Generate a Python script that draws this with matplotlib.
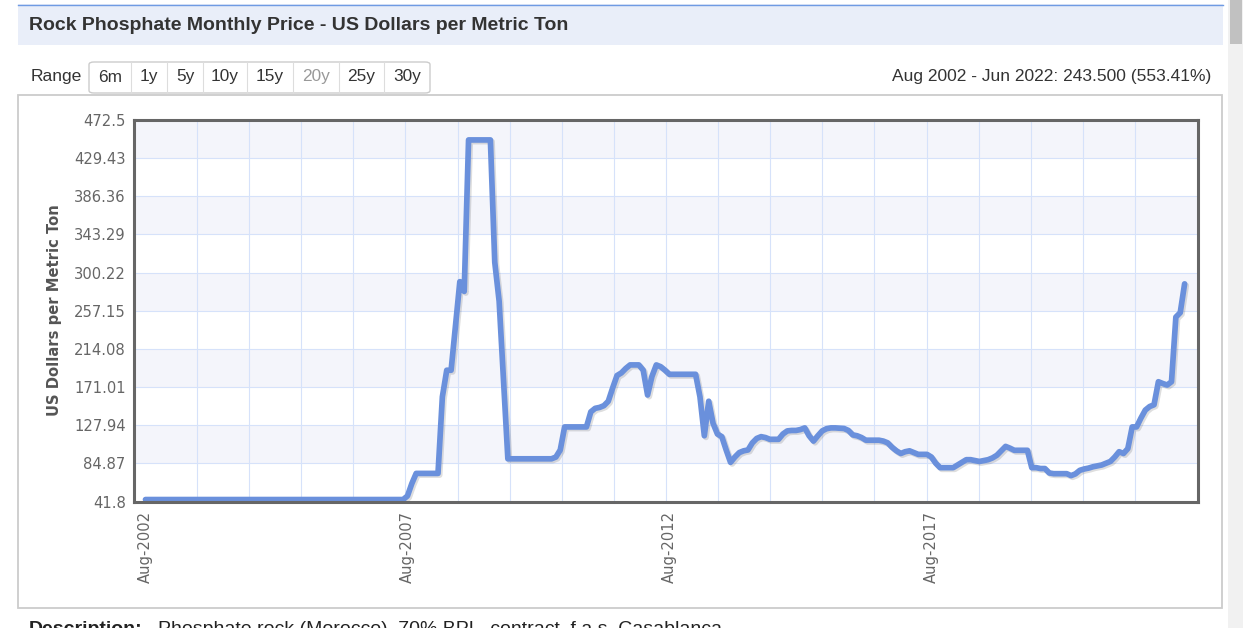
import matplotlib
matplotlib.use("Agg")
import matplotlib.pyplot as plt
import matplotlib.patheffects as pe
from matplotlib.patches import Rectangle, FancyBboxPatch
from matplotlib.lines import Line2D
import numpy as np
import pandas as pd

# ---- data (monthly, Aug 2002 .. Jun 2022) ----
months = pd.date_range("2002-08-01", "2022-06-01", freq="MS")
price = [
    44, 44, 44, 44, 44, 44, 44, 44, 44, 44, 44, 44,
    44, 44, 44, 44, 44, 44, 44, 44, 44, 44, 44, 44,
    44, 44, 44, 44, 44, 44, 44, 44, 44, 44, 44, 44,
    44, 44, 44, 44, 44, 44, 44, 44, 44, 44, 44, 44,
    44, 44, 44, 44, 44, 44, 44, 44, 44, 44, 44, 44,
    48, 62, 73.5, 73.5, 73.5, 73.5, 73.5, 73.5, 160, 190, 190, 240,
    290, 279, 450, 450, 450, 450, 450, 450, 312, 268, 180, 90,
    90, 90, 90, 90, 90, 90, 90, 90, 90, 90, 92, 100,
    126, 126, 126, 126, 126, 126, 143, 147, 148, 150, 155, 170,
    184, 187, 192, 196, 196, 196, 190, 162, 183, 196, 194, 190,
    185.4, 185.4, 185.4, 185.4, 185.4, 185.4, 185.4, 160, 116, 155, 130, 118,
    115, 100, 86, 92, 97, 99, 100, 108, 113, 115, 114, 112,
    112, 112, 118, 121.5, 122, 122, 123, 124.9, 116, 110, 116, 121.5,
    124, 124.9, 124.9, 124.5, 124.2, 122, 117, 116, 114, 111, 111, 111,
    111, 110, 108, 103, 99, 96, 98, 99, 97, 95, 95, 95,
    92, 85, 80, 80, 80, 80, 83, 86, 89, 89, 88, 87,
    88, 89, 91, 94, 99, 104, 102, 99.6, 99.6, 99.6, 99.6, 80,
    80, 79, 79, 74, 73.2, 73.2, 73.2, 73.2, 71, 73, 77, 78.5,
    79.5, 81, 82, 83, 85, 87, 92, 98, 96, 101.5, 126, 126,
    136, 145, 149, 151, 177, 175, 173.3, 177, 250, 255, 287.5,
]
ymin, ymax = 41.8, 472.5
ytick_vals = [41.8, 84.87, 127.94, 171.01, 214.08, 257.15, 300.22, 343.29, 386.36, 429.43, 472.5]
ytick_labels = ["41.8", "84.87", "127.94", "171.01", "214.08", "257.15",
                "300.22", "343.29", "386.36", "429.43", "472.5"]
xlabel_idx = [0, 60, 120, 180]
range_buttons = ["6m", "1y", "5y", "10y", "15y", "20y", "25y", "30y"]
title = "Rock Phosphate Monthly Price - US Dollars per Metric Ton"
summary = "Aug 2002 - Jun 2022: 243.500 (553.41%)"
ylabel = "US Dollars per Metric Ton"
desc = "Phosphate rock (Morocco), 70% BPL, contract, f.a.s. Casablanca"

W, H = 1243, 628
def fx(x):
    return x / W
def fy(y):
    return 1 - y / H

fig = plt.figure(figsize=(W / 100, H / 100), dpi=100)
fig.patch.set_facecolor("white")
hdr_font = ["Liberation Sans", "DejaVu Sans"]

# header bar
fig.add_artist(Rectangle((fx(18), fy(45)), fx(1223) - fx(18), fy(4) - fy(45),
                         transform=fig.transFigure, facecolor="#e9eef9", edgecolor="none"))
fig.add_artist(Line2D([fx(18), fx(1223)], [fy(4.5), fy(4.5)], transform=fig.transFigure,
                      color="#6f9be3", lw=1.0))
fig.text(fx(29), fy(25), title, fontsize=14.0, fontweight="bold", color="#333333",
         family=hdr_font, va="center", ha="left")

# scrollbar on the right
fig.add_artist(Rectangle((fx(1228), 0), fx(15), 1, transform=fig.transFigure,
                         facecolor="#f1f1f1", edgecolor="none"))
fig.add_artist(Rectangle((fx(1230), fy(44)), fx(12), fy(0) - fy(44), transform=fig.transFigure,
                         facecolor="#c1c1c1", edgecolor="none"))

# range selector
fig.text(fx(31), fy(77), "Range", fontsize=12.6, color="#333333", family=hdr_font,
         va="center", ha="left")
edges = [89, 131, 167, 203, 247, 293, 339, 384, 430]
fig.add_artist(FancyBboxPatch((fx(89), fy(93)), fx(430) - fx(89), fy(62) - fy(93),
                              boxstyle="round,pad=0,rounding_size=0.004",
                              transform=fig.transFigure, facecolor="white",
                              edgecolor="#cccccc", lw=1.0))
for i, lab in enumerate(range_buttons):
    if i > 0:
        fig.add_artist(Line2D([fx(edges[i]), fx(edges[i])], [fy(62), fy(93)],
                              transform=fig.transFigure, color="#dddddd", lw=0.8))
    cx = (edges[i] + edges[i + 1]) / 2
    fig.text(fx(cx), fy(77), lab, fontsize=12.4, family=hdr_font, ha="center", va="center",
             color="#999999" if lab == "20y" else "#333333")

fig.text(fx(1211), fy(77), summary, fontsize=12.5, color="#333333", family=hdr_font,
         ha="right", va="center")

# chart container
fig.add_artist(Rectangle((fx(18), fy(608)), fx(1222) - fx(18), fy(95) - fy(608),
                         transform=fig.transFigure, facecolor="none",
                         edgecolor="#cccccc", lw=1.3))

# description (cut off by the bottom edge, as in the page screenshot)
fig.text(fx(29), fy(621.5), "Description:", fontsize=14, fontweight="bold",
         color="#222222", family=hdr_font, ha="left", va="top")
fig.text(fx(158), fy(621.5), desc, fontsize=14, color="#222222", family=hdr_font,
         ha="left", va="top")

# ---- main plot ----
x = np.arange(len(price))
ax = fig.add_axes([fx(134), fy(501.5), (1198 - 134) / W, (501.5 - 120) / H])
ax.set_facecolor("white")

for i in range(1, len(ytick_vals) - 1, 2):
    ax.axhspan(ytick_vals[i], ytick_vals[i + 1], color="#f4f5fb", lw=0, zorder=0)

ax.plot(x, price, color="#6a90dc", lw=4.1, solid_joinstyle="round", solid_capstyle="round",
        zorder=3,
        path_effects=[pe.SimpleLineShadow(offset=(1.2, -1.2), shadow_color="black", alpha=0.13),
                      pe.Normal()])

ax.set_xlim(-2.63, 241.07)
ax.set_ylim(ymin, ymax)

ax.set_yticks(ytick_vals)
ax.set_yticklabels(ytick_labels)
ax.set_xticks(xlabel_idx)
ax.set_xticklabels([months[i].strftime("%b-%Y") for i in xlabel_idx], rotation=90)
ax.set_xticks(np.arange(19) * 11.935 + 11.8, minor=True)

ax.grid(True, axis="y", which="major", color="#d6e2fa", lw=0.8, zorder=1)
ax.grid(True, axis="x", which="minor", color="#d6e2fa", lw=0.8, zorder=1)
ax.set_axisbelow(True)

ax.tick_params(axis="both", which="both", length=0)
ax.tick_params(axis="y", pad=6, labelsize=10.6, labelcolor="#666666")
ax.tick_params(axis="x", pad=7, labelsize=10.6, labelcolor="#666666")

for s in ax.spines.values():
    s.set_color("#666666")
    s.set_linewidth(2.2)
    s.set_zorder(5)

fig.text(fx(55), fy(310), ylabel, rotation=90, fontsize=10.6, fontweight="bold",
         color="#555555", ha="center", va="center")

fig.savefig("out.png", dpi=100)
